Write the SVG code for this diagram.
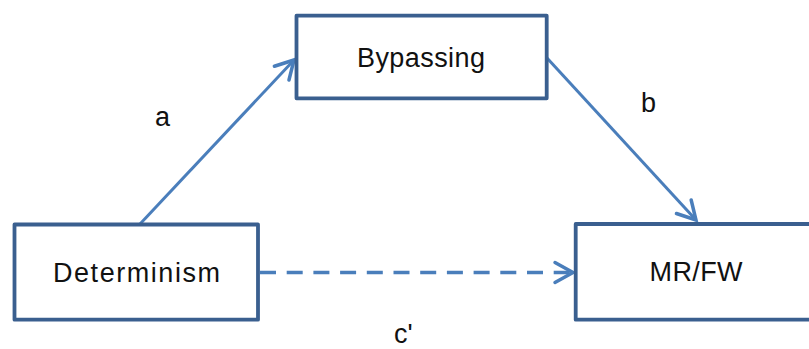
<svg xmlns="http://www.w3.org/2000/svg" width="809" height="349" viewBox="0 0 809 349">
  <style>
    .box { fill: #ffffff; stroke: #3A5F8F; stroke-width: 3.8; stroke-linejoin: round; }
    .lbl { font-family: "Liberation Sans", Arial, sans-serif; font-size: 27px; fill: #111111; }
    .edge { fill: none; stroke: #4A7EBB; stroke-width: 3; }
    .dash { stroke-width: 3.6; stroke-dasharray: 16 10.7; }
  </style>
  <defs>
    <marker id="arrow" markerUnits="userSpaceOnUse" viewBox="-22 -13 26 26" refX="0" refY="0" markerWidth="26" markerHeight="26" orient="auto" overflow="visible">
      <path d="M -18 -10 L 0 0 L -18 10" fill="none" stroke="#4A7EBB" stroke-width="3.5" stroke-linecap="round" stroke-linejoin="miter"/>
    </marker>
  </defs>

  <rect width="809" height="349" fill="#ffffff"/>

  <!-- connectors -->
  <g id="connectors">
    <line class="edge" x1="140" y1="224" x2="294" y2="60" marker-end="url(#arrow)"/>
    <line class="edge" x1="547" y1="58" x2="696" y2="220" marker-end="url(#arrow)"/>
    <line class="edge dash" x1="258" y1="272.5" x2="573" y2="272.5" stroke-dashoffset="-2" marker-end="url(#arrow)"/>
    <text class="lbl" x="155" y="126">a</text>
    <text class="lbl" x="641" y="111.5">b</text>
    <text class="lbl" x="394" y="343">c'</text>
  </g>

  <!-- nodes -->
  <g id="bypassing">
    <rect class="box" x="296.5" y="15.7" width="250.2" height="82.6"/>
    <text class="lbl" x="357" y="67" textLength="128" lengthAdjust="spacing">Bypassing</text>
  </g>
  <g id="determinism">
    <rect class="box" x="14.5" y="224.5" width="243.5" height="95.2"/>
    <text class="lbl" x="53" y="282" textLength="167" lengthAdjust="spacing">Determinism</text>
  </g>
  <g id="mrfw">
    <rect class="box" x="575.7" y="224" width="245" height="95.7"/>
    <text class="lbl" x="649.5" y="281" textLength="93" lengthAdjust="spacing">MR/FW</text>
  </g>
</svg>
